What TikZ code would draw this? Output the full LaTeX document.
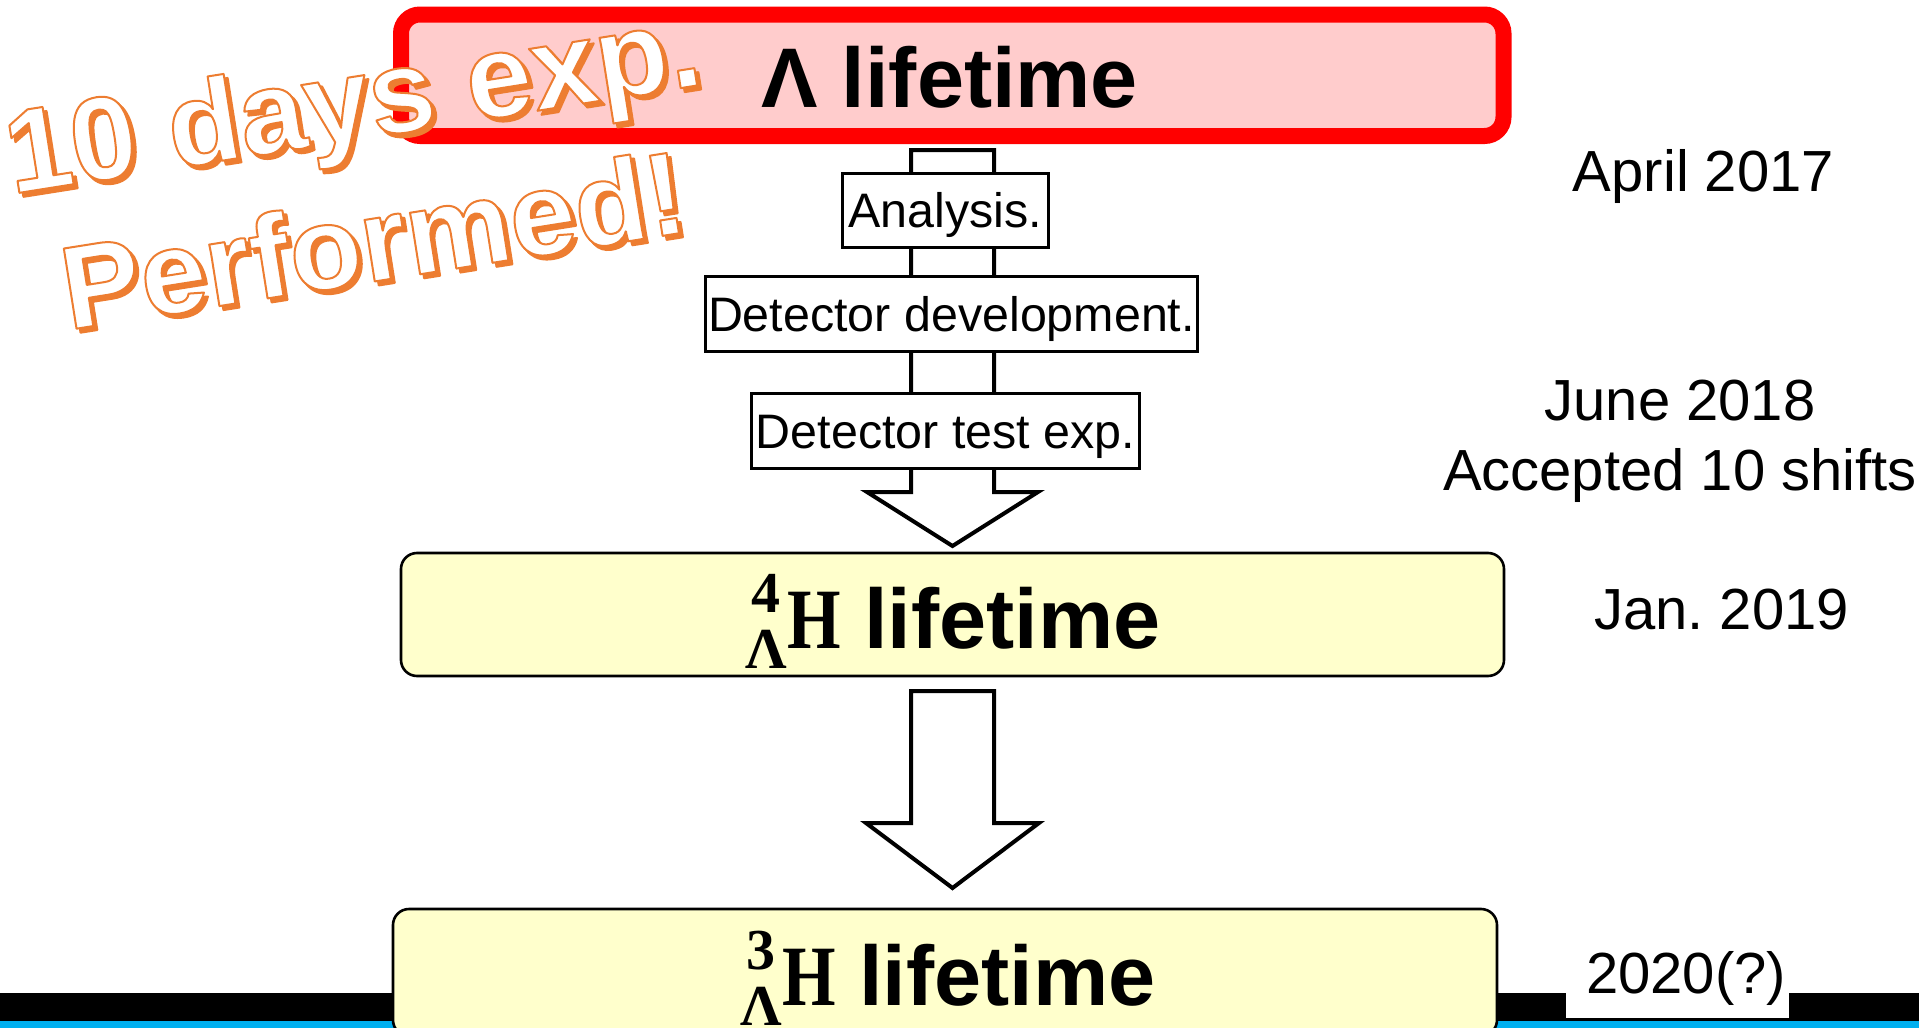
\documentclass[tikz,border=0pt]{standalone}
\usepackage{fontspec}
\setmainfont{Liberation Sans}
\newfontfamily\serifface{Liberation Serif}
\usepackage{graphicx}
\usetikzlibrary{calc}

\definecolor{lampink}{HTML}{FFCCCC}
\definecolor{lamred}{HTML}{FF0000}
\definecolor{hypyellow}{HTML}{FFFFCC}
\definecolor{stamporange}{HTML}{ED7D31}
\definecolor{barcyan}{HTML}{00B0F0}

% stacked mass number over Lambda, centred on each other
\newcommand{\prescripts}[2]{%
  \setbox0\hbox{\fontsize{29}{29}\selectfont\serifface\bfseries #2}%
  \rlap{\hbox to \wd0{\hss\raisebox{18pt}{\fontsize{29}{29}\selectfont\serifface\bfseries #1}\hss}}%
  \raisebox{-10pt}{\box0}}
% hypernucleus symbol
\newcommand{\hypnuc}[1]{\prescripts{#1}{Λ}\scalebox{0.8}[1]{\fontsize{43}{43}\selectfont\serifface\bfseries H}}

% glyphs filled in the current colour and stroked in orange
\newcommand{\orangeoutline}[1]{%
  \special{pdf:literal direct 0.929 0.490 0.192 RG 1 w 1 j 2 Tr}#1\special{pdf:literal direct 0 Tr}}

% outlined stamp text with drop shadow
\newcommand{\stampline}[3]{%
  \node[stampfont, text=stamporange] (#1shadow) at ($(#2)+(4,4)$) {\orangeoutline{#3}};
  \node[stampfont, text=white] (#1) at (#2) {\orangeoutline{#3}};
}

\begin{document}
\begin{tikzpicture}[x=0.5pt, y=-0.5pt,
  every node/.style={inner sep=0pt, outer sep=0pt},
  titletext/.style={font=\fontsize{42.3}{50}\selectfont\bfseries, anchor=base},
  taskbox/.style={draw, fill=white, line width=1.4pt,
    font=\fontsize{24.2}{29}\selectfont, text height=17.3pt, text depth=0pt},
  hypbox/.style={draw=black, fill=hypyellow, line width=1.3pt, rounded corners=8pt},
  datetext/.style={font=\fontsize{29}{35}\selectfont, anchor=base},
  hollowarrow/.style={draw=black, fill=white, line width=2pt},
  stampfont/.style={font=\fontsize{59}{70}\selectfont\bfseries, anchor=base, rotate=9},
]
\useasboundingbox (0,0) rectangle (1919,1028);

% footer bars
\fill[black] (0,993) rectangle (1919,1021);
\fill[barcyan] (0,1021) rectangle (1919,1040);

% Lambda lifetime
\node[draw=lamred, fill=lampink, line width=8pt, rounded corners=9.5pt,
      minimum width=551.25pt, minimum height=60.75pt] (lambox) at (952.25,75.25) {};
\node[titletext] (lamtext) at (950,107) {Λ lifetime};

% first block arrow with the intermediate steps on it
\coordinate (a1top) at (952.5,150);
\coordinate (a1tip) at (952.5,546);
\draw[hollowarrow] ($(a1top)+(-41.5,0)$) -- ($(a1top)+(41.5,0)$)
  -- ($(a1tip)+(41.5,-54)$) -- ($(a1tip)+(85.5,-54)$) -- (a1tip)
  -- ($(a1tip)+(-85.5,-54)$) -- ($(a1tip)+(-41.5,-54)$) -- cycle;

\node[taskbox, minimum width=103pt, minimum height=37pt] (analysis) at (945.5,210.5) {Analysis.};
\node[taskbox, minimum width=246pt, minimum height=37.5pt] (devel) at (951.5,314) {Detector development.};
\node[taskbox, minimum width=194pt, minimum height=37.5pt] (testexp) at (945.5,431) {Detector test exp.};

% 4-Lambda-H lifetime
\node[hypbox, minimum width=551.5pt, minimum height=61.5pt] (h4box) at (952.5,614.5) {};
\node[titletext] (h4text) at (953,648) {\hypnuc{4} lifetime};

% second block arrow
\coordinate (a2top) at (952.5,691);
\coordinate (a2tip) at (952.5,888);
\draw[hollowarrow] ($(a2top)+(-41.5,0)$) -- ($(a2top)+(41.5,0)$)
  -- ($(a2tip)+(41.5,-65)$) -- ($(a2tip)+(86.5,-65)$) -- (a2tip)
  -- ($(a2tip)+(-86.5,-65)$) -- ($(a2tip)+(-41.5,-65)$) -- cycle;

% 3-Lambda-H lifetime
\node[hypbox, minimum width=552pt, minimum height=63.5pt] (h3box) at (945,972.5) {};
\node[titletext] (h3text) at (948,1005) {\hypnuc{3} lifetime};

% schedule
\fill[white] (1566,940) rectangle (1789,1018);
\node[datetext] (apr) at (1703.5,191) {April 2017};
\node[datetext] (jun) at (1680,420) {June 2018};
\node[datetext] (acc) at (1680,490) {Accepted 10 shifts};
\node[datetext] (jan) at (1721.5,629) {Jan.\ 2019};
\node[datetext] (yr) at (1686,993) {2020(?)};

% stamp
\coordinate (st1) at (358.7,139.1);
\coordinate (st2) at (379.6,280.7);
\stampline{stampa}{st1}{10 days exp.}
\stampline{stampb}{st2}{Performed!}
\end{tikzpicture}
\end{document}
